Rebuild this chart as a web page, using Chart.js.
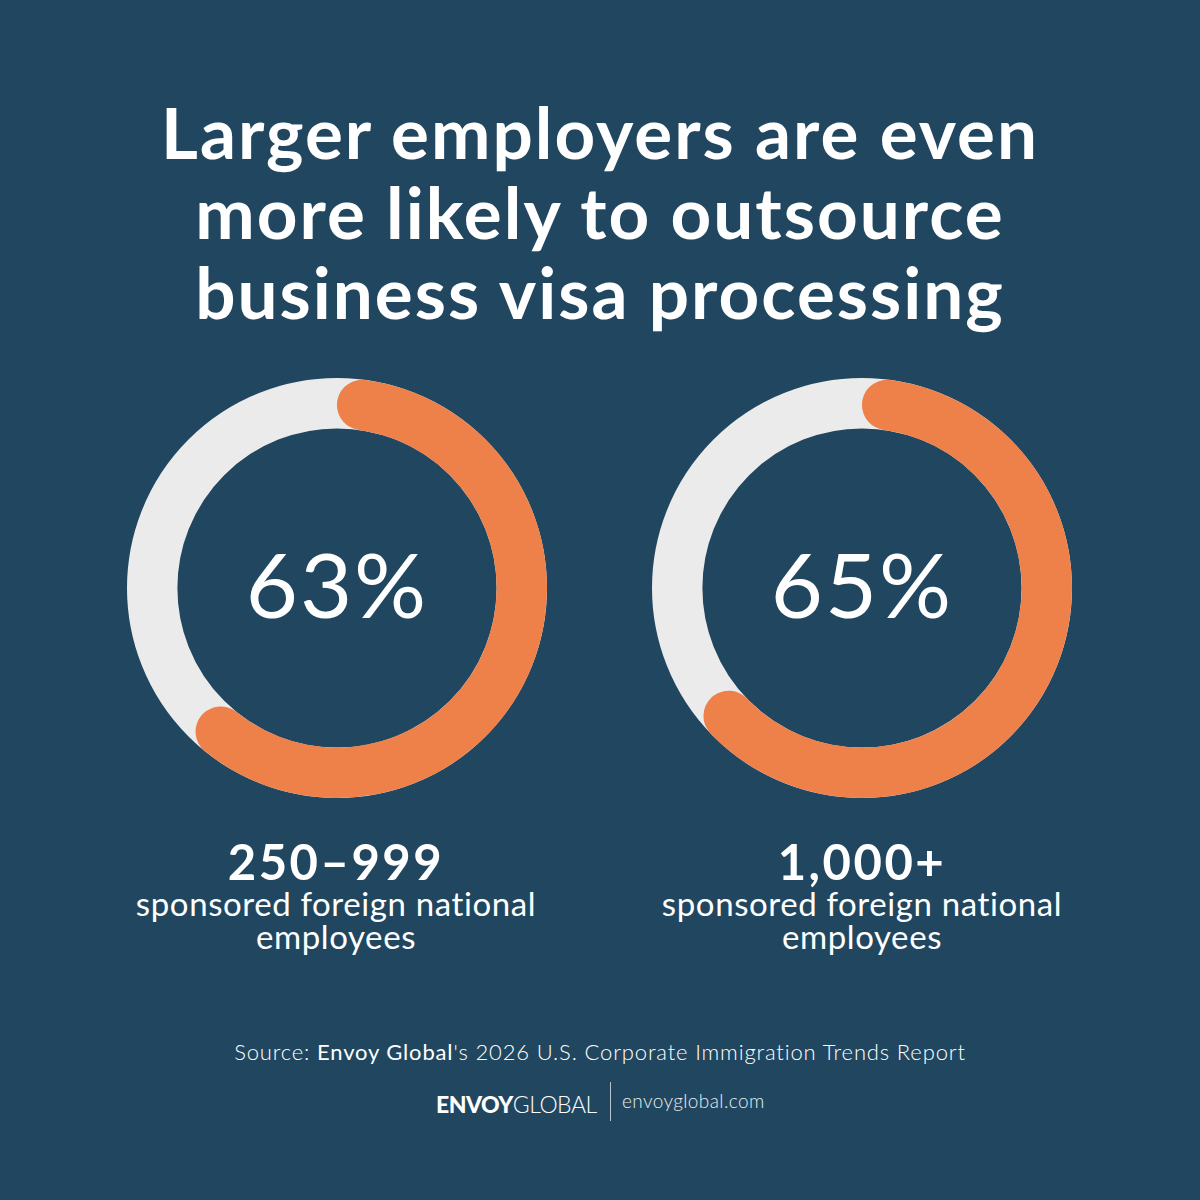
<!DOCTYPE html>
<html>
<head>
<meta charset="utf-8">
<script src="https://cdn.jsdelivr.net/npm/chart.js@4.4.1/dist/chart.umd.min.js"></script>
<style>
  html, body { margin: 0; padding: 0; }
  body { width: 1200px; height: 1200px; background: #214760; position: relative; overflow: hidden; font-family: Lato, "Open Sans", sans-serif; color: #fff; }
  .title { position: absolute; left: 0; top: 92px; width: 1200px; text-align: center; font-weight: 700; font-size: 71px; line-height: 80px; letter-spacing: 2px; }
  .ring { position: absolute; width: 430px; height: 430px; }
  .pct { position: absolute; width: 420px; text-align: center; font-weight: 400; font-size: 90px; line-height: 100px; letter-spacing: 2px; }
  .lbl { position: absolute; width: 560px; text-align: center; }
  .lbl .big { font-weight: 700; font-size: 49px; line-height: 52px; letter-spacing: 2.5px; }
  .lbl .sub { font-weight: 400; font-size: 33px; line-height: 33px; letter-spacing: 0.6px; }
  .source { position: absolute; left: 0; top: 1038px; width: 1200px; text-align: center; font-size: 22px; font-weight: 300; letter-spacing: 0.85px; }
  .source b { font-weight: 400; }
  .logo { position: absolute; top: 1082px; left: 0; width: 1200px; height: 40px; }
</style>
</head>
<body>
<div class="title">Larger employers are even<br>more likely to outsource<br>business visa processing</div>

<div class="ring" style="left:122px; top:373px;"><canvas id="c1" width="430" height="430"></canvas></div>
<div class="ring" style="left:647px; top:373px;"><canvas id="c2" width="430" height="430"></canvas></div>

<div class="pct" id="p1" style="left:127px; top:533px;"></div>
<div class="pct" id="p2" style="left:652px; top:533px;"></div>

<div class="lbl" id="l1" style="left:56px; top:835px;"></div>
<div class="lbl" id="l2" style="left:582px; top:835px;"></div>

<div class="source">Source: <b>Envoy Global</b>'s 2026 U.S. Corporate Immigration Trends Report</div>

<div class="logo">
  <span style="position:absolute; left:436px; top:8px; font-size:23px; letter-spacing:-0.5px;"><b style="font-weight:900;">ENVOY</b><span style="font-weight:300;">GLOBAL</span></span>
  <span style="position:absolute; left:610px; top:0; width:1px; height:39px; background:#b8c4cc;"></span>
  <span style="position:absolute; left:622px; top:7px; font-size:19px; font-weight:300; letter-spacing:0.4px; color:#e8edf0;">envoyglobal.com</span>
</div>

<script>
// 規模別の外部委託率
const groups = ["250–999", "1,000+"];
const subLabels = ["sponsored foreign national", "employees"];
const outsourced = [63, 65];

const orange = "#ee8049";
const track = "#ebebeb";

// 背景リング（グレー）
const trackRing = {
  id: "trackRing",
  beforeDatasetsDraw(chart) {
    const arc = chart.getDatasetMeta(0).data[0];
    if (!arc) return;
    const ctx = chart.ctx;
    const r = (arc.outerRadius + arc.innerRadius) / 2;
    ctx.save();
    ctx.beginPath();
    ctx.arc(arc.x, arc.y, r, 0, Math.PI * 2);
    ctx.strokeStyle = track;
    ctx.lineWidth = arc.outerRadius - arc.innerRadius;
    ctx.stroke();
    ctx.restore();
  }
};

outsourced.forEach((v, i) => {
  const canvas = document.getElementById("c" + (i + 1));
  new Chart(canvas.getContext("2d"), {
    type: "doughnut",
    data: {
      labels: ["Outsource", "Other"],
      datasets: [{
        data: [v, 100 - v],
        backgroundColor: [orange, "rgba(0,0,0,0)"],
        borderWidth: 0,
        borderRadius: [30, 0]
      }]
    },
    options: {
      responsive: false,
      animation: false,
      cutout: "76%",
      layout: { padding: 5 },
      plugins: { legend: { display: false }, tooltip: { enabled: false } }
    },
    plugins: [trackRing]
  });
  document.getElementById("p" + (i + 1)).textContent = v + "%";
  document.getElementById("l" + (i + 1)).innerHTML =
    '<div class="big">' + groups[i] + '</div><div class="sub">' + subLabels.join("<br>") + '</div>';
});
</script>
</body>
</html>
